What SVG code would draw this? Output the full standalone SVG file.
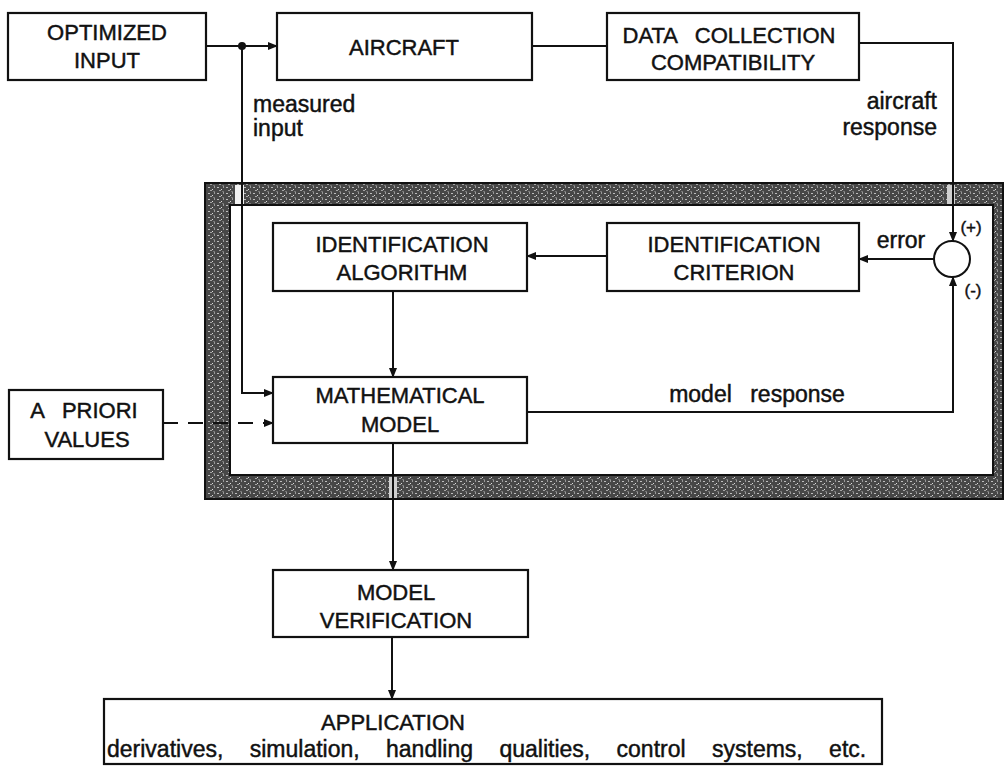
<svg xmlns="http://www.w3.org/2000/svg" width="1004" height="767" viewBox="0 0 1004 767">
<style>
.box{fill:#fff;stroke:#111;stroke-width:2.2}
.t{font-family:"Liberation Sans",Arial,sans-serif;font-size:22px;fill:#111;stroke:#111;stroke-width:0.45;text-anchor:middle}
.l{font-family:"Liberation Sans",Arial,sans-serif;font-size:23px;fill:#111;stroke:#111;stroke-width:0.45}
.c{fill:none;stroke:#111;stroke-width:2}
.s{font-family:"Liberation Sans",Arial,sans-serif;font-size:17px;fill:#111;stroke:#111;stroke-width:0.4}
</style>
<defs>
<marker id="arr" markerWidth="10" markerHeight="8" refX="9" refY="4" orient="auto" markerUnits="userSpaceOnUse">
<path d="M0,0 L10,4 L0,8 z" fill="#111"/>
</marker>
<pattern id="speck" width="9" height="6" patternUnits="userSpaceOnUse">
<rect width="9" height="6" fill="#474747"/>
<rect x="1" y="1" width="2" height="1" fill="#bdbdbd"/>
<rect x="5" y="3" width="1" height="1" fill="#dcdcdc"/>
<rect x="7" y="0" width="1" height="2" fill="#999"/>
<rect x="3" y="4" width="2" height="1" fill="#a5a5a5"/>
<rect x="6" y="5" width="2" height="1" fill="#777"/>
</pattern>
</defs>
<rect width="1004" height="767" fill="#fff"/>

<g id="frame">
<path d="M205,183 H1003 V499 H205 Z M230,205 V475 H993 V205 Z" fill="url(#speck)" fill-rule="evenodd" stroke="#111" stroke-width="2"/>
<rect x="235" y="185" width="9" height="19" fill="#f2f2f2"/>
<rect x="947" y="185" width="8" height="19" fill="#cfcfcf"/>
<rect x="389" y="477" width="8" height="21" fill="#cfcfcf"/>
</g>

<g id="connectors">
<line class="c" x1="206" y1="46" x2="277" y2="46" marker-end="url(#arr)"/>
<circle cx="242" cy="46" r="4" fill="#111"/>
<line class="c" x1="532" y1="46" x2="607" y2="46"/>
<path class="c" d="M859,43 H953 V241" marker-end="url(#arr)"/>
<path class="c" d="M242,46 V393 H273" marker-end="url(#arr)"/>
<line class="c" x1="934" y1="259" x2="859" y2="259" marker-end="url(#arr)"/>
<line class="c" x1="607" y1="256" x2="527" y2="256" marker-end="url(#arr)"/>
<line class="c" x1="393" y1="291" x2="393" y2="377" marker-end="url(#arr)"/>
<path class="c" d="M527,412 H953 V277" marker-end="url(#arr)"/>
<line class="c" x1="393" y1="443" x2="393" y2="570" marker-end="url(#arr)"/>
<line class="c" x1="392" y1="637" x2="392" y2="699" marker-end="url(#arr)"/>
<line class="c" x1="163" y1="423" x2="273" y2="423" stroke-dasharray="15 10" marker-end="url(#arr)"/>
<text class="l" x="253" y="112" font-size="21">measured</text>
<text class="l" x="253" y="136" font-size="21">input</text>
<text class="l" x="937" y="109" text-anchor="end">aircraft</text>
<text class="l" x="937" y="135" text-anchor="end">response</text>
<text class="l" x="901" y="248" text-anchor="middle">error</text>
<text class="l" x="757" y="402" text-anchor="middle" word-spacing="12">model response</text>
<text class="s" x="971" y="233" text-anchor="middle">(+)</text>
<text class="s" x="973" y="296" text-anchor="middle">(-)</text>
</g>

<g id="sum">
<circle cx="952" cy="259" r="18" fill="#fff" stroke="#111" stroke-width="2"/>
</g>

<g id="optimized-input">
<rect class="box" x="8" y="13" width="198" height="67"/>
<text class="t" x="107" y="40">OPTIMIZED</text>
<text class="t" x="107" y="68">INPUT</text>
</g>

<g id="aircraft">
<rect class="box" x="277" y="13" width="255" height="67"/>
<text class="t" x="404" y="55">AIRCRAFT</text>
</g>

<g id="data-collection">
<rect class="box" x="607" y="13" width="252" height="67"/>
<text class="t" x="729" y="43" word-spacing="12">DATA COLLECTION</text>
<text class="t" x="733" y="70">COMPATIBILITY</text>
</g>

<g id="identification-algorithm">
<rect class="box" x="273" y="223" width="254" height="68"/>
<text class="t" x="402" y="252">IDENTIFICATION</text>
<text class="t" x="402" y="280">ALGORITHM</text>
</g>

<g id="identification-criterion">
<rect class="box" x="607" y="223" width="252" height="68"/>
<text class="t" x="734" y="252">IDENTIFICATION</text>
<text class="t" x="734" y="280">CRITERION</text>
</g>

<g id="mathematical-model">
<rect class="box" x="273" y="377" width="254" height="66"/>
<text class="t" x="400" y="403">MATHEMATICAL</text>
<text class="t" x="400" y="432">MODEL</text>
</g>

<g id="a-priori">
<rect class="box" x="9" y="390" width="154" height="69"/>
<text class="t" x="84" y="418" word-spacing="12">A PRIORI</text>
<text class="t" x="87" y="447">VALUES</text>
</g>

<g id="model-verification">
<rect class="box" x="273" y="570" width="255" height="67"/>
<text class="t" x="396" y="600">MODEL</text>
<text class="t" x="396" y="628">VERIFICATION</text>
</g>

<g id="application">
<rect class="box" x="104" y="699" width="778" height="65"/>
<text class="t" x="393" y="730">APPLICATION</text>
<text class="l" x="107" y="757" word-spacing="20">derivatives, simulation, handling qualities, control systems, etc.</text>
</g>
</svg>
